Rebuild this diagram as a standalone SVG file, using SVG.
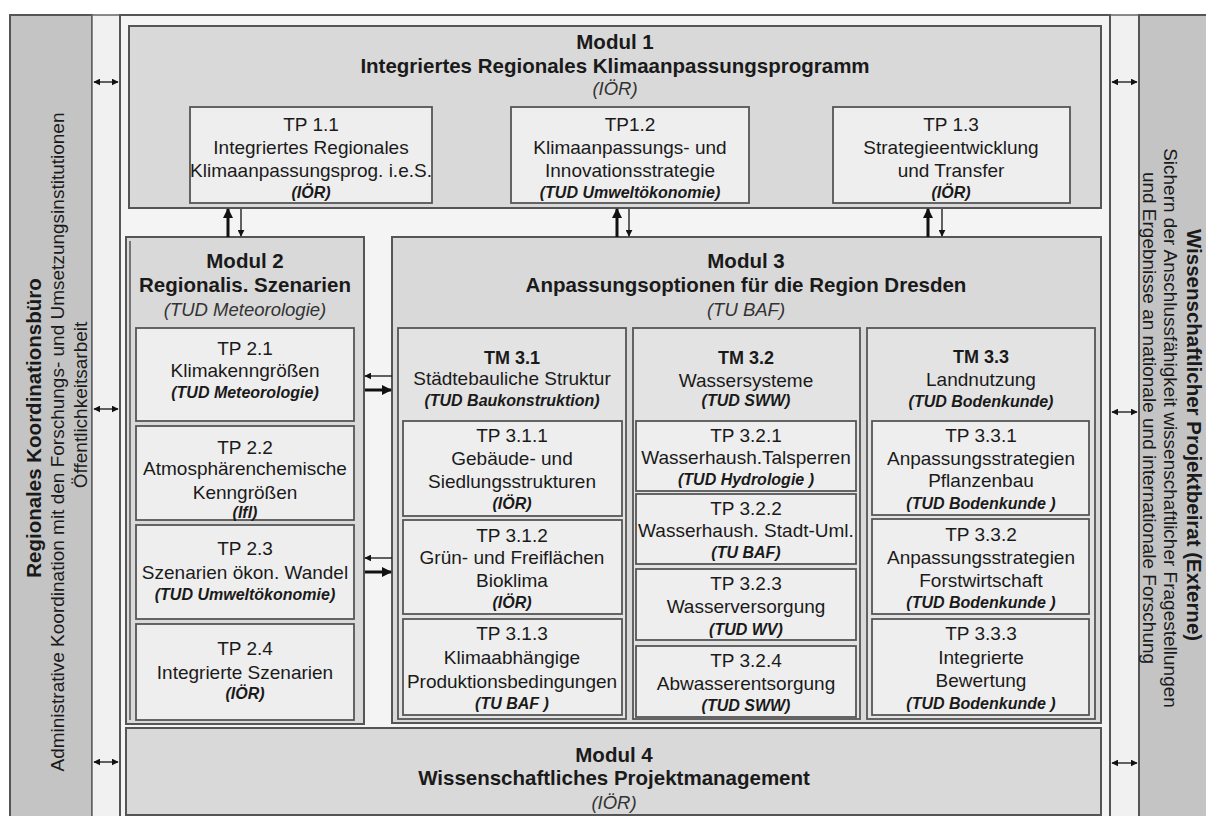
<svg xmlns="http://www.w3.org/2000/svg" width="1206" height="816" viewBox="0 0 1206 816">
<defs>
<style>
.side{fill:#c4c4c4;stroke:#555;stroke-width:2}
.strip{fill:#f1f1f1;stroke:#666;stroke-width:1.5}
.frame{fill:#f4f4f4;stroke:#555;stroke-width:2}
.mod{fill:#d9d9d9;stroke:#555;stroke-width:2}
.tm{fill:#e3e3e3;stroke:#555;stroke-width:1.8}
.tp{fill:#eeeeee;stroke:#555;stroke-width:1.8}
text{font-family:"Liberation Sans",Arial,sans-serif;fill:#1a1a1a;text-anchor:middle}
.b{font-weight:bold;font-size:20.5px}
.bs{font-weight:bold;font-size:18px}
.r{font-size:19px}
.i{font-style:italic;font-size:18.5px;fill:#333}
.bi{font-style:italic;font-weight:bold;font-size:16px}
.thin{stroke:#111;stroke-width:1.3;fill:none}
.thick{stroke:#111;stroke-width:3;fill:none}
</style>
<marker id="ah" viewBox="0 0 10 10" refX="9" refY="5" markerWidth="7" markerHeight="7" markerUnits="userSpaceOnUse" orient="auto-start-reverse"><path d="M0,0 L10,5 L0,10 z" fill="#111"/></marker>
<marker id="ahb" viewBox="0 0 10 10" refX="9" refY="5" markerWidth="10" markerHeight="10" markerUnits="userSpaceOnUse" orient="auto-start-reverse"><path d="M0,0 L10,5 L0,10 z" fill="#111"/></marker>
</defs>
<rect width="1206" height="816" fill="#ffffff"/>

<g id="side-left">
<rect class="side" x="10" y="15" width="82" height="810"/>
<text class="b" font-size="23" transform="translate(41,428) rotate(-90)">Regionales Koordinationsbüro</text>
<text class="r" font-size="19.5" transform="translate(64,442) rotate(-90)">Administrative Koordination mit den Forschungs- und Umsetzungsinstitutionen</text>
<text class="r" transform="translate(87,405) rotate(-90)">Öffentlichkeitsarbeit</text>
</g>
<rect class="strip" x="92" y="15" width="28" height="810"/>
<rect class="strip" x="1110" y="15" width="29" height="810"/>
<g id="side-right">
<rect class="side" x="1139" y="15" width="80" height="810"/>
<text class="b" font-size="22" transform="translate(1187,435) rotate(90)">Wissenschaftlicher Projektbeirat (Externe)</text>
<text class="r" transform="translate(1164,428) rotate(90)">Sichern der Anschlussfähigkeit wissenschaftlicher Fragestellungen</text>
<text class="r" transform="translate(1143,418) rotate(90)">und Ergebnisse an nationale und internationale Forschung</text>
</g>
<rect class="frame" x="120" y="15" width="990" height="810"/>

<g id="modul1">
<rect class="mod" x="129" y="26" width="972" height="182"/>
<text class="b" x="615" y="49">Modul 1</text>
<text class="b" x="615" y="73">Integriertes Regionales Klimaanpassungsprogramm</text>
<text class="i" x="615" y="95">(IÖR)</text>
</g>
<g id="tp11">
<rect class="tp" x="190" y="107" width="242" height="96"/>
<text class="r" x="311" y="131">TP 1.1</text>
<text class="r" x="311" y="154">Integriertes Regionales</text>
<text class="r" x="311" y="177">Klimaanpassungsprog. i.e.S.</text>
<text class="bi" x="311" y="198">(IÖR)</text>
</g>
<g id="tp12">
<rect class="tp" x="511" y="107" width="238" height="96"/>
<text class="r" x="630" y="131">TP1.2</text>
<text class="r" x="630" y="154">Klimaanpassungs- und</text>
<text class="r" x="630" y="177">Innovationsstrategie</text>
<text class="bi" x="630" y="198">(TUD Umweltökonomie)</text>
</g>
<g id="tp13">
<rect class="tp" x="833" y="107" width="237" height="96"/>
<text class="r" x="951" y="131">TP 1.3</text>
<text class="r" x="951" y="154">Strategieentwicklung</text>
<text class="r" x="951" y="177">und Transfer</text>
<text class="bi" x="951" y="198">(IÖR)</text>
</g>

<g id="modul2">
<rect class="mod" x="126" y="237" width="238" height="487"/>
<line x1="130" y1="241" x2="130" y2="720" stroke="#555" stroke-width="1.5"/>
<text class="b" x="245" y="268">Modul 2</text>
<text class="b" x="245" y="292">Regionalis. Szenarien</text>
<text class="i" x="245" y="316">(TUD Meteorologie)</text>
</g>
<g id="tp21">
<rect class="tp" x="136" y="328" width="218" height="93"/>
<text class="r" x="245" y="355">TP 2.1</text>
<text class="r" x="245" y="377">Klimakenngrößen</text>
<text class="bi" x="245" y="398">(TUD Meteorologie)</text>
</g>
<g id="tp22">
<rect class="tp" x="136" y="426" width="218" height="94"/>
<text class="r" x="245" y="454">TP 2.2</text>
<text class="r" x="245" y="475">Atmosphärenchemische</text>
<text class="r" x="245" y="499">Kenngrößen</text>
<text class="bi" x="245" y="518">(Ifl)</text>
</g>
<g id="tp23">
<rect class="tp" x="136" y="525" width="218" height="94"/>
<text class="r" x="245" y="555">TP 2.3</text>
<text class="r" x="245" y="579">Szenarien ökon. Wandel</text>
<text class="bi" x="245" y="600">(TUD Umweltökonomie)</text>
</g>
<g id="tp24">
<rect class="tp" x="136" y="624" width="218" height="96"/>
<text class="r" x="245" y="655">TP 2.4</text>
<text class="r" x="245" y="679">Integrierte Szenarien</text>
<text class="bi" x="245" y="699">(IÖR)</text>
</g>

<g id="modul3">
<rect class="mod" x="392" y="237" width="709" height="486"/>
<text class="b" x="746" y="268">Modul 3</text>
<text class="b" x="746" y="292">Anpassungsoptionen für die Region Dresden</text>
<text class="i" x="746" y="316">(TU BAF)</text>
</g>
<g id="tm31">
<rect class="tm" x="398" y="328" width="228" height="391"/>
<text class="bs" x="512" y="364">TM 3.1</text>
<text class="r" x="512" y="385">Städtebauliche Struktur</text>
<text class="bi" x="512" y="406">(TUD Baukonstruktion)</text>
</g>
<g id="tp311">
<rect class="tp" x="403" y="421" width="219" height="95"/>
<text class="r" x="512" y="442">TP 3.1.1</text>
<text class="r" x="512" y="465">Gebäude- und</text>
<text class="r" x="512" y="488">Siedlungsstrukturen</text>
<text class="bi" x="512" y="509">(IÖR)</text>
</g>
<g id="tp312">
<rect class="tp" x="403" y="520" width="219" height="94"/>
<text class="r" x="512" y="542">TP 3.1.2</text>
<text class="r" x="512" y="564">Grün- und Freiflächen</text>
<text class="r" x="512" y="587">Bioklima</text>
<text class="bi" x="512" y="608">(IÖR)</text>
</g>
<g id="tp313">
<rect class="tp" x="403" y="619" width="219" height="96"/>
<text class="r" x="512" y="640">TP 3.1.3</text>
<text class="r" x="512" y="664">Klimaabhängige</text>
<text class="r" x="512" y="688">Produktionsbedingungen</text>
<text class="bi" x="512" y="709">(TU BAF )</text>
</g>

<g id="tm32">
<rect class="tm" x="633" y="328" width="227" height="391"/>
<text class="bs" x="746" y="364">TM 3.2</text>
<text class="r" x="746" y="387">Wassersysteme</text>
<text class="bi" x="746" y="406">(TUD SWW)</text>
</g>
<g id="tp321">
<rect class="tp" x="636" y="421" width="220" height="70"/>
<text class="r" x="746" y="442">TP 3.2.1</text>
<text class="r" x="746" y="464">Wasserhaush.Talsperren</text>
<text class="bi" x="746" y="485">(TUD Hydrologie )</text>
</g>
<g id="tp322">
<rect class="tp" x="636" y="494" width="220" height="70"/>
<text class="r" x="746" y="515">TP 3.2.2</text>
<text class="r" x="746" y="537">Wasserhaush. Stadt-Uml.</text>
<text class="bi" x="746" y="558">(TU BAF)</text>
</g>
<g id="tp323">
<rect class="tp" x="636" y="569" width="220" height="71"/>
<text class="r" x="746" y="590">TP 3.2.3</text>
<text class="r" x="746" y="613">Wasserversorgung</text>
<text class="bi" x="746" y="635">(TUD WV)</text>
</g>
<g id="tp324">
<rect class="tp" x="636" y="646" width="220" height="71"/>
<text class="r" x="746" y="667">TP 3.2.4</text>
<text class="r" x="746" y="690">Abwasserentsorgung</text>
<text class="bi" x="746" y="711">(TUD SWW)</text>
</g>

<g id="tm33">
<rect class="tm" x="867" y="328" width="228" height="391"/>
<text class="bs" x="981" y="363">TM 3.3</text>
<text class="r" x="981" y="386">Landnutzung</text>
<text class="bi" x="981" y="407">(TUD Bodenkunde)</text>
</g>
<g id="tp331">
<rect class="tp" x="872" y="421" width="217" height="94"/>
<text class="r" x="981" y="442">TP 3.3.1</text>
<text class="r" x="981" y="465">Anpassungsstrategien</text>
<text class="r" x="981" y="487">Pflanzenbau</text>
<text class="bi" x="981" y="509">(TUD Bodenkunde )</text>
</g>
<g id="tp332">
<rect class="tp" x="872" y="519" width="217" height="95"/>
<text class="r" x="981" y="541">TP 3.3.2</text>
<text class="r" x="981" y="564">Anpassungsstrategien</text>
<text class="r" x="981" y="587">Forstwirtschaft</text>
<text class="bi" x="981" y="608">(TUD Bodenkunde )</text>
</g>
<g id="tp333">
<rect class="tp" x="872" y="619" width="217" height="96"/>
<text class="r" x="981" y="640">TP 3.3.3</text>
<text class="r" x="981" y="664">Integrierte</text>
<text class="r" x="981" y="687">Bewertung</text>
<text class="bi" x="981" y="709">(TUD Bodenkunde )</text>
</g>

<g id="modul4">
<rect class="mod" x="126" y="728" width="975" height="87"/>
<text class="b" x="614" y="762">Modul 4</text>
<text class="b" x="614" y="785">Wissenschaftliches Projektmanagement</text>
<text class="i" x="614" y="809">(IÖR)</text>
</g>

<g id="connectors">
<line class="thick" x1="228" y1="237" x2="228" y2="209" marker-end="url(#ahb)"/>
<line class="thin" x1="241" y1="209" x2="241" y2="236" marker-end="url(#ah)"/>
<line class="thick" x1="617" y1="237" x2="617" y2="209" marker-end="url(#ahb)"/>
<line class="thin" x1="629" y1="209" x2="629" y2="236" marker-end="url(#ah)"/>
<line class="thick" x1="928" y1="237" x2="928" y2="209" marker-end="url(#ahb)"/>
<line class="thin" x1="942" y1="209" x2="942" y2="236" marker-end="url(#ah)"/>
<line class="thin" x1="392" y1="376" x2="365" y2="376" marker-end="url(#ah)"/>
<line class="thick" x1="365" y1="390" x2="391" y2="390" marker-end="url(#ahb)"/>
<line class="thin" x1="392" y1="558" x2="365" y2="558" marker-end="url(#ah)"/>
<line class="thick" x1="365" y1="572" x2="391" y2="572" marker-end="url(#ahb)"/>
<line class="thin" x1="94" y1="82" x2="118" y2="82" marker-start="url(#ah)" marker-end="url(#ah)"/>
<line class="thin" x1="94" y1="409" x2="118" y2="409" marker-start="url(#ah)" marker-end="url(#ah)"/>
<line class="thin" x1="94" y1="762" x2="118" y2="762" marker-start="url(#ah)" marker-end="url(#ah)"/>
<line class="thin" x1="1112" y1="82" x2="1137" y2="82" marker-start="url(#ah)" marker-end="url(#ah)"/>
<line class="thin" x1="1112" y1="412" x2="1137" y2="412" marker-start="url(#ah)" marker-end="url(#ah)"/>
<line class="thin" x1="1112" y1="763" x2="1137" y2="763" marker-start="url(#ah)" marker-end="url(#ah)"/>
</g>
</svg>
